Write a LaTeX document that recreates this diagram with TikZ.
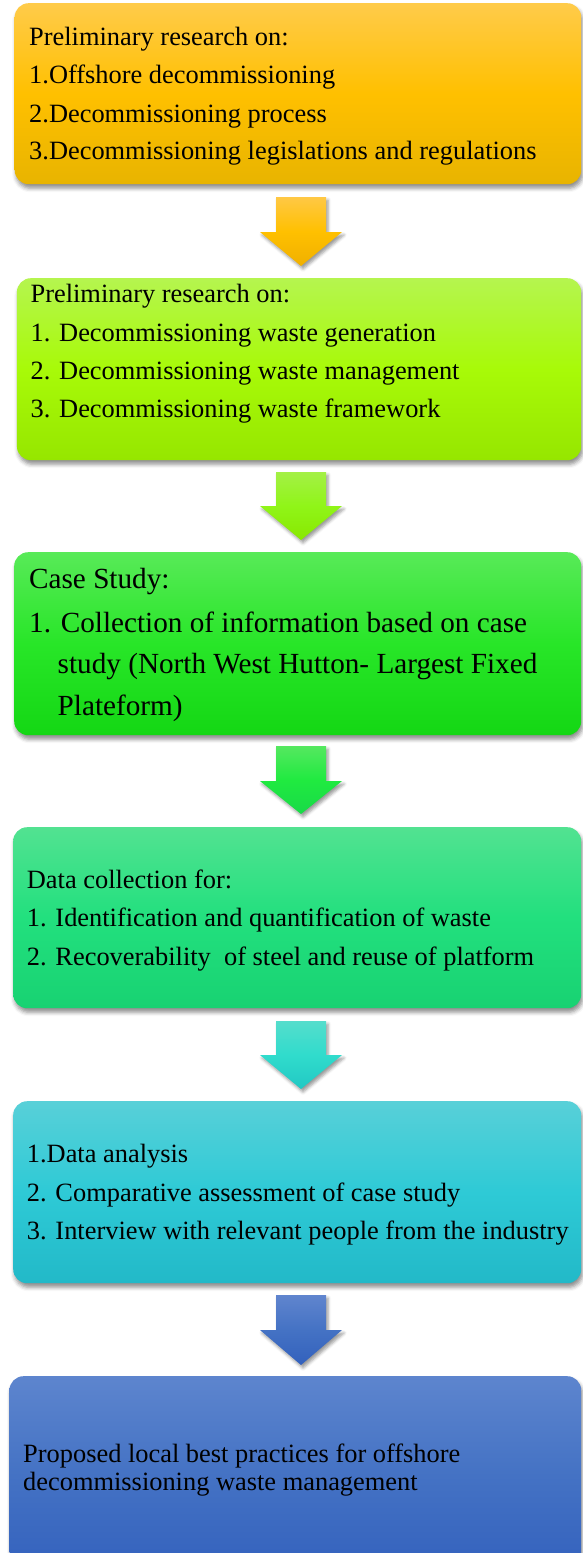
\documentclass[tikz,border=0pt]{standalone}
\usepackage{fontspec}
\setmainfont{Liberation Serif}
\usetikzlibrary{shadows.blur}
\definecolor{b1t}{HTML}{FFCB4A}\definecolor{b1m}{HTML}{FFC000}\definecolor{b1b}{HTML}{E8B400}
\definecolor{b2t}{HTML}{B5F54F}\definecolor{b2m}{HTML}{A8FA08}\definecolor{b2b}{HTML}{96E600}
\definecolor{b3t}{HTML}{58EA58}\definecolor{b3m}{HTML}{28E628}\definecolor{b3b}{HTML}{14D714}
\definecolor{b4t}{HTML}{52E291}\definecolor{b4m}{HTML}{22E07E}\definecolor{b4b}{HTML}{18D272}
\definecolor{b5t}{HTML}{58D0D8}\definecolor{b5m}{HTML}{2ECAD6}\definecolor{b5b}{HTML}{22B9C8}
\definecolor{b6t}{HTML}{5D85CE}\definecolor{b6m}{HTML}{4472C4}\definecolor{b6b}{HTML}{3361BD}
\definecolor{a1t}{HTML}{FFC845}\definecolor{a1m}{HTML}{FFC000}\definecolor{a1b}{HTML}{F0B000}
\definecolor{a2t}{HTML}{A4F046}\definecolor{a2m}{HTML}{90F518}\definecolor{a2b}{HTML}{88E800}
\definecolor{a3t}{HTML}{55E860}\definecolor{a3m}{HTML}{20EA40}\definecolor{a3b}{HTML}{18DA48}
\definecolor{a4t}{HTML}{55DDCC}\definecolor{a4m}{HTML}{30DCCC}\definecolor{a4b}{HTML}{22C8C4}
\definecolor{a5t}{HTML}{6085CE}\definecolor{a5m}{HTML}{4472C4}\definecolor{a5b}{HTML}{3361BD}
\tikzset{
  panel/.style={rectangle, rounded corners=14pt, draw=none, anchor=north west, inner sep=0pt,
    blur shadow={shadow xshift=1.5pt, shadow yshift=-4pt, shadow blur radius=4pt, shadow opacity=45}},
  blockarrow/.style={draw=none,
    blur shadow={shadow xshift=2pt, shadow yshift=-3pt, shadow blur radius=3pt, shadow opacity=40}},
  txt/.style={anchor=base west, inner sep=0pt, text=black, font=\fontsize{26.4}{30}\selectfont},
  bigtxt/.style={txt, font=\fontsize{29.2}{33}\selectfont}
}
\begin{document}
\begin{tikzpicture}[x=1pt,y=-1pt]
\useasboundingbox (0,0) rectangle (582,1553);
% boxes
\node[panel, minimum width=566.5pt, minimum height=181pt, top color=b1t, bottom color=b1b, middle color=b1m] (b1) at (14.5,3) {};
\node[panel, minimum width=564.3pt, minimum height=182pt, top color=b2t, bottom color=b2b, middle color=b2m] (b2) at (16.7,278) {};
\node[panel, minimum width=567pt, minimum height=183pt, top color=b3t, bottom color=b3b, middle color=b3m] (b3) at (14,552) {};
\node[panel, minimum width=568pt, minimum height=181pt, top color=b4t, bottom color=b4b, middle color=b4m] (b4) at (13,827) {};
\node[panel, minimum width=568pt, minimum height=182pt, top color=b5t, bottom color=b5b, middle color=b5m] (b5) at (13,1101) {};
\node[panel, minimum width=571.7pt, minimum height=199pt, top color=b6t, bottom color=b6b, middle color=b6m] (b6) at (9.3,1376) {};
% block arrows
\foreach \T/\W/\P/\cc in {197/232/266/a1, 472/506/540/a2, 746/781/814/a3, 1021/1055/1089/a4, 1295/1330/1365/a5}{
  \path[blockarrow, top color=\cc t, bottom color=\cc b, middle color=\cc m]
    (276,\T) -- (326,\T) -- (326,\W) -- (342,\W) -- (301,\P) -- (260,\W) -- (276,\W) -- cycle;
}
% box 1 text
\node[txt] (t11) at (29,45) {Preliminary research on:};
\node[txt] (t12) at (29,83) {1.Offshore decommissioning};
\node[txt] (t13) at (29,122) {2.Decommissioning process};
\node[txt] (t14) at (29,159) {3.Decommissioning legislations and regulations};
% box 2 text
\node[txt] (t21) at (30.4,302.7) {Preliminary research on:};
\node[txt] (t22) at (30.4,341) {1. Decommissioning waste generation};
\node[txt] (t23) at (30.4,379) {2. Decommissioning waste management};
\node[txt] (t24) at (30.4,417) {3. Decommissioning waste framework};
% box 3 text
\node[bigtxt] (t31) at (29,588) {Case Study:};
\node[bigtxt] (t32) at (29,632) {1. Collection of information based on case};
\node[bigtxt] (t33) at (57.5,673) {study (North West Hutton- Largest Fixed};
\node[bigtxt] (t34) at (57.5,715) {Plateform)};
% box 4 text
\node[txt] (t41) at (26.7,888) {Data collection for:};
\node[txt] (t42) at (26.7,926) {1. Identification and quantification of waste};
\node[txt] (t43) at (26.7,965) {2. Recoverability\ \ of steel and reuse of platform};
% box 5 text
\node[txt] (t51) at (26.7,1162) {1.Data analysis};
\node[txt] (t52) at (26.7,1201) {2. Comparative assessment of case study};
\node[txt] (t53) at (26.7,1239) {3. Interview with relevant people from the industry};
% box 6 text
\node[txt] (t61) at (23,1462) {Proposed local best practices for offshore};
\node[txt] (t62) at (23,1490) {decommissioning waste management};
\end{tikzpicture}
\end{document}
